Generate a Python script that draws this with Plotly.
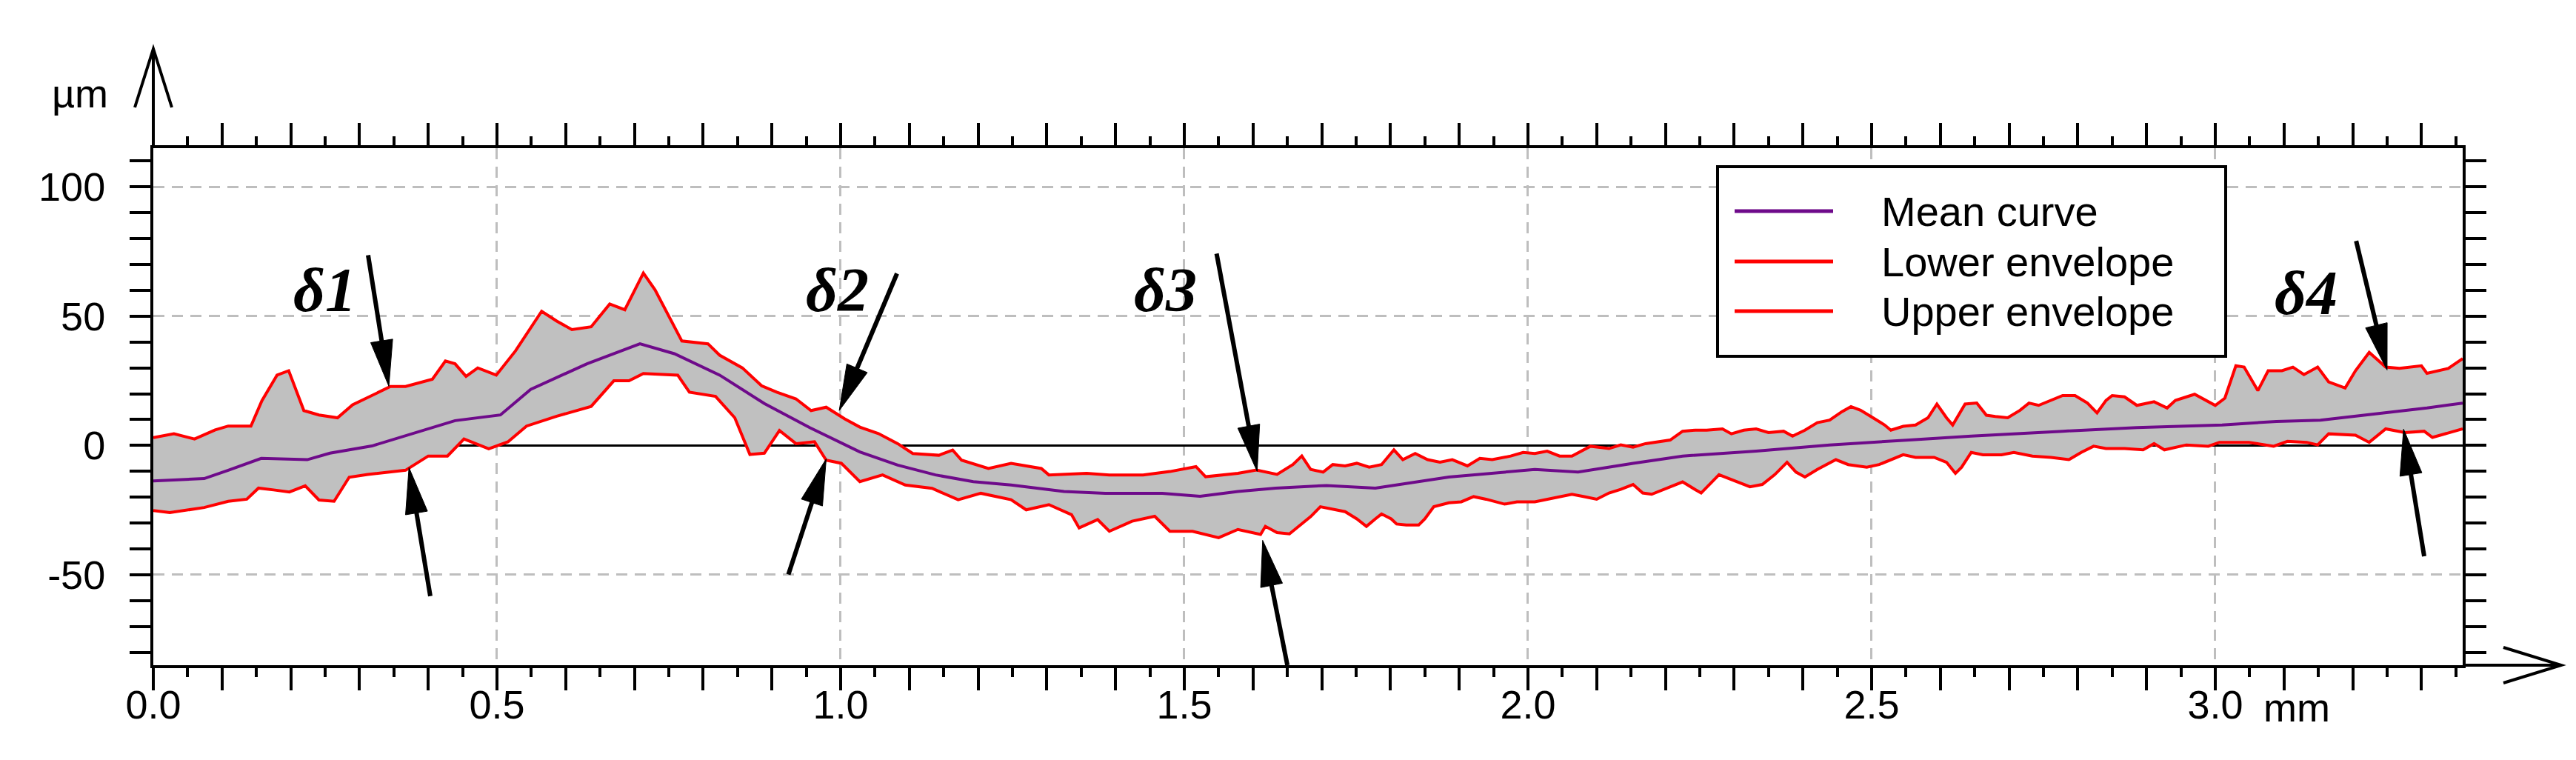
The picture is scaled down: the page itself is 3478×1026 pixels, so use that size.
import plotly.graph_objects as go

# ---------------- data ----------------
upper_x = [0.000,0.030,0.060,0.090,0.109,0.142,0.158,0.180,0.197,0.219,
           0.241,0.268,0.290,0.329,0.345,0.367,0.406,0.425,0.439,0.455,
           0.472,0.499,0.527,0.565,0.587,0.609,0.637,0.664,0.686,0.713,
           0.730,0.769,0.807,0.824,0.857,0.885,0.907,0.935,0.957,0.979,
           1.006,1.028,1.055,1.083,1.105,1.143,1.163,1.176,1.215,1.248,
           1.292,1.303,1.358,1.391,1.440,1.479,1.517,1.531,1.578,1.605,
           1.618,1.635,1.658,1.671,1.684,1.702,1.716,1.734,1.751,1.769,
           1.787,1.805,1.818,1.836,1.854,1.872,1.890,1.912,1.930,1.948,
           1.975,1.993,2.010,2.028,2.046,2.064,2.091,2.118,2.135,2.153,
           2.171,2.207,2.225,2.243,2.260,2.283,2.296,2.314,2.332,2.350,
           2.372,2.385,2.403,2.421,2.439,2.457,2.470,2.484,2.502,2.519,
           2.528,2.546,2.564,2.582,2.595,2.609,2.618,2.636,2.653,2.667,
           2.680,2.698,2.716,2.729,2.743,2.761,2.778,2.796,2.814,2.828,
           2.841,2.850,2.868,2.886,2.903,
           2.911,2.930,2.942,2.970,3.000,3.014,3.030,3.042,3.062,3.077,
           3.097,3.113,3.129,3.149,3.165,3.189,3.204,3.224,3.248,3.268,
           3.300,3.308,3.339,3.360]
upper_y = [3.0,4.5,2.5,6.0,7.5,7.5,17.3,27.2,28.9,13.5,
           11.8,10.7,15.7,20.6,22.8,22.8,25.6,32.7,31.6,26.7,
           30.0,27.2,36.6,51.9,48.1,44.8,45.9,54.7,52.5,66.7,
           60.2,40.4,39.3,34.9,30.0,23.1,20.6,18.0,13.5,14.8,
           10.3,7.1,4.6,0.7,-3.1,-3.8,-1.8,-5.7,-8.9,-6.9,
           -8.9,-11.4,-10.8,-11.4,-11.4,-10.1,-8.2,-12.1,-10.8,-9.5,
           -10.3,-11.2,-7.4,-4.1,-9.3,-10.3,-7.4,-7.9,-6.9,-8.4,
           -7.4,-1.7,-5.5,-3.1,-5.5,-6.5,-5.5,-7.9,-5.0,-5.5,
           -4.1,-2.7,-3.1,-2.2,-4.1,-4.1,-0.3,-1.2,0.2,-0.7,
           0.7,2.1,5.5,5.9,5.9,6.4,4.5,5.9,6.4,5.0,
           5.5,3.6,5.9,8.8,9.8,13.1,15.0,13.6,10.7,7.9,
           5.9,7.4,7.9,10.7,16.0,10.7,7.9,16.0,16.4,11.7,
           11.2,10.7,13.6,16.4,15.5,17.4,19.3,19.3,16.4,12.6,
           17.4,19.3,18.8,15.5,16.4,
           16.9,14.5,17.4,19.8,15.5,18.3,30.8,30.3,21.2,28.9,
           28.9,30.3,27.4,30.3,24.6,22.2,28.9,36.0,30.3,29.8,
           30.8,27.9,29.8,33.6]

lower_x = [0.000,0.024,0.074,0.109,0.136,0.153,0.175,0.198,0.221,0.241,
           0.263,0.285,0.312,0.367,0.400,0.428,0.452,0.488,0.516,0.543,
           0.587,0.637,0.670,0.692,0.713,0.763,0.780,0.818,0.846,0.868,
           0.889,0.911,0.935,0.962,0.979,1.001,1.028,1.061,1.094,1.133,
           1.171,1.204,1.248,1.270,1.303,1.336,1.347,1.374,1.391,1.424,
           1.457,1.479,1.512,1.550,1.578,1.611,
           1.618,1.635,1.653,1.671,1.684,1.698,1.716,1.734,1.751,1.765,
           1.778,1.787,1.801,1.809,1.823,1.841,1.850,1.863,1.885,1.903,
           1.921,1.939,1.966,1.984,2.010,2.037,2.064,2.082,2.100,2.118,
           2.135,2.153,2.167,2.180,2.198,2.225,2.243,2.252,2.278,2.296,
           2.323,2.341,2.359,2.377,2.390,2.403,2.421,2.448,2.466,2.493,
           2.511,2.546,2.564,2.591,2.609,2.622,2.631,2.645,2.662,2.689,
           2.707,2.734,2.761,2.787,2.805,2.823,2.841,2.868,2.895,
           2.911,2.926,2.958,2.990,3.006,3.049,3.085,3.105,3.133,3.149,
           3.165,3.204,3.224,3.248,3.276,3.304,3.316,3.360]
lower_y = [-25.2,-26.0,-24.0,-21.6,-20.8,-16.5,-17.2,-18.0,-15.6,-21.1,
           -21.6,-12.3,-11.2,-9.6,-4.1,-4.1,2.5,-1.3,1.4,7.5,
           11.3,15.1,25.0,25.0,27.8,27.2,20.6,19.0,10.7,-3.5,
           -3.0,5.8,0.7,1.4,-5.7,-6.9,-14.0,-11.4,-15.3,-16.6,
           -21.0,-18.5,-21.0,-24.9,-22.9,-26.8,-31.9,-28.7,-33.2,-29.3,
           -27.4,-33.2,-33.2,-35.7,-32.5,-34.4,
           -31.3,-33.7,-34.2,-30.4,-27.5,-23.7,-24.6,-25.6,-28.4,-31.3,
           -28.4,-26.5,-28.4,-30.4,-30.8,-30.8,-28.4,-23.7,-22.2,-21.8,
           -19.8,-20.8,-22.7,-21.8,-21.8,-20.3,-18.9,-19.8,-20.8,-18.4,
           -17.0,-15.1,-18.4,-18.9,-17.0,-14.1,-17.0,-18.4,-11.3,-13.2,
           -16.0,-15.1,-11.3,-6.5,-10.3,-12.2,-9.3,-5.5,-7.4,-8.4,
           -7.4,-3.6,-4.6,-4.6,-6.5,-10.8,-8.4,-2.7,-3.6,-3.6,
           -2.7,-4.1,-4.6,-5.5,-2.7,-0.3,-1.2,-1.2,-1.7,
           0.7,-1.7,0.2,-0.3,1.2,1.2,-0.3,1.6,1.2,0.2,
           4.5,4.0,1.2,6.4,5.0,5.5,3.1,6.4]

mean_x = [0.000,0.074,0.109,0.157,0.224,0.257,0.318,0.384,0.439,0.505,
          0.549,0.631,0.708,0.758,0.824,0.889,0.955,1.028,1.083,1.138,
          1.193,1.248,1.325,1.385,1.468,1.523,1.578,1.633,1.707,1.778,
          1.885,2.010,2.073,2.153,2.225,2.332,2.439,2.555,2.645,2.778,
          2.886,3.010,3.089,3.153,3.248,3.308,3.360]
mean_y = [-13.7,-12.8,-9.6,-5.0,-5.5,-3.0,-0.2,5.3,9.6,11.8,
          21.7,31.6,39.3,35.5,27.2,16.2,6.9,-2.5,-7.6,-11.4,
          -14.0,-15.3,-17.8,-18.5,-18.5,-19.7,-17.8,-16.5,-15.5,-16.5,
          -12.2,-9.3,-10.3,-6.9,-4.1,-2.2,0.2,2.1,3.6,5.5,
          6.9,7.9,9.3,9.8,12.6,14.5,16.4]

series_names = ["Mean curve", "Lower envelope", "Upper envelope"]

x_tick_vals = [0.0, 0.5, 1.0, 1.5, 2.0, 2.5, 3.0]
x_tick_text = ["0.0", "0.5", "1.0", "1.5", "2.0", "2.5", "3.0"]
y_tick_vals = [-50, 0, 50, 100]
y_tick_text = ["-50", "0", "50", "100"]
x_unit = "mm"
y_unit = "µm"

delta_labels = ["δ1", "δ2", "δ3", "δ4"]
delta_label_x = [0.250, 0.995, 1.473, 3.132]
delta_label_y = [60.0, 60.0, 60.0, 59.0]

arrow_tail_x = [0.3125, 0.403, 1.082, 0.924, 1.547, 1.650, 3.205, 3.304]
arrow_tail_y = [73.6, -58.3, 66.5, -49.9, 74.2, -85.0, 79.1, -42.9]
arrow_tip_x = [0.3427, 0.372, 0.998, 0.979, 1.606, 1.614, 3.250, 3.274]
arrow_tip_y = [22.9, -8.6, 13.5, -5.2, -10.0, -36.7, 29.2, 6.3]

# ---------------- geometry / style ----------------
W, H = 3478, 1026
ML, MR, MT, MB = 199, 161, 192, 136
PW, PH = W - ML - MR, H - MT - MB
X_RANGE = [0.0, 3.36]
Y_RANGE = [-85.0, 115.0]
FONT = "Liberation Sans, Arial, sans-serif"
SERIF = "Liberation Serif, Times New Roman, serif"
GRAY = "#C0C0C0"
RED = "#FF0000"
PURPLE = "#6E0A8A"
GRID = "#BEBEBE"
series_colors = [PURPLE, RED, RED]

# legend box (pixel geometry)
LEG_X0, LEG_X1, LEG_Y0, LEG_Y1 = 2311, 2997, 217, 473
LEG_ROWS = [277, 345, 412]
LEG_LINE_X0, LEG_LINE_X1, LEG_TEXT_X = 2334, 2467, 2530


def d2p(x, y):
    px = ML + (x - X_RANGE[0]) / (X_RANGE[1] - X_RANGE[0]) * PW
    py = MT + (Y_RANGE[1] - y) / (Y_RANGE[1] - Y_RANGE[0]) * PH
    return px, py


def p2d(px, py):
    x = X_RANGE[0] + (px - ML) / PW * (X_RANGE[1] - X_RANGE[0])
    y = Y_RANGE[1] - (py - MT) / PH * (Y_RANGE[1] - Y_RANGE[0])
    return x, y


def p2paper(px, py):
    return (px - ML) / PW, (MT + PH - py) / PH


fig = go.Figure()

# gray bundle of measured profiles (band between envelopes)
fig.add_trace(go.Scatter(x=lower_x, y=lower_y, mode="lines",
                         line=dict(width=0, color=GRAY), showlegend=False,
                         hoverinfo="skip"))
fig.add_trace(go.Scatter(x=upper_x, y=upper_y, mode="lines", fill="tonexty",
                         fillcolor=GRAY, line=dict(width=0, color=GRAY),
                         showlegend=False, hoverinfo="skip"))
# envelopes and mean
fig.add_trace(go.Scatter(x=lower_x, y=lower_y, mode="lines", name=series_names[1],
                         line=dict(color=RED, width=4), showlegend=False))
fig.add_trace(go.Scatter(x=upper_x, y=upper_y, mode="lines", name=series_names[2],
                         line=dict(color=RED, width=4), showlegend=False))
fig.add_trace(go.Scatter(x=mean_x, y=mean_y, mode="lines", name=series_names[0],
                         line=dict(color=PURPLE, width=4), showlegend=False))
# helper axis carrying the short 0.05 ticks
fig.add_trace(go.Scatter(x=[], y=[], xaxis="x2", showlegend=False, hoverinfo="skip"))

x_major = [round(i * 0.1, 2) for i in range(0, 34)]
x_short = [round(0.05 + i * 0.1, 2) for i in range(0, 34)]

fig.update_layout(
    width=W, height=H,
    margin=dict(l=ML, r=MR, t=MT, b=MB, pad=0),
    paper_bgcolor="white", plot_bgcolor="white",
    font=dict(family=FONT, size=54, color="black"),
    showlegend=False,
    xaxis=dict(range=X_RANGE, tickmode="array", tickvals=x_tick_vals,
               ticktext=x_tick_text, ticks="outside", ticklen=30, tickwidth=4,
               tickcolor="black", showline=True, linewidth=4, linecolor="black",
               mirror="allticks", showgrid=True, gridcolor=GRID, gridwidth=3,
               griddash="15px,10px", zeroline=False,
               tickfont=dict(family=FONT, size=54, color="black"),
               ticklabelstandoff=-27,
               minor=dict(tickmode="array", tickvals=x_major, ticks="outside",
                          ticklen=30, tickwidth=4, tickcolor="black", showgrid=False)),
    xaxis2=dict(range=X_RANGE, overlaying="x", anchor="y", side="bottom",
                tickmode="array", tickvals=x_short, ticks="outside", ticklen=15,
                tickwidth=4, tickcolor="black", showticklabels=False,
                showline=False, showgrid=False, zeroline=False, mirror="allticks"),
    yaxis=dict(range=Y_RANGE, tickmode="array", tickvals=y_tick_vals,
               ticktext=y_tick_text, ticks="outside", ticklen=28, tickwidth=4,
               tickcolor="black", showline=True, linewidth=4, linecolor="black",
               mirror="allticks", showgrid=True, gridcolor=GRID, gridwidth=3,
               griddash="15px,10px", zeroline=True, zerolinecolor="black",
               zerolinewidth=3, tickfont=dict(family=FONT, size=54, color="black"),
               ticklabelstandoff=22,
               minor=dict(tick0=0, dtick=10, ticks="outside", ticklen=11,
                          tickwidth=4, tickcolor="black", showgrid=False)),
)

shapes = []
annotations = []

# delta arrows: shaft + filled head
HEAD_L, HEAD_W = 62.0, 30.0
for tx, ty, hx, hy in zip(arrow_tail_x, arrow_tail_y, arrow_tip_x, arrow_tip_y):
    p0x, p0y = d2p(tx, ty)
    p1x, p1y = d2p(hx, hy)
    dx, dy = p1x - p0x, p1y - p0y
    n = (dx * dx + dy * dy) ** 0.5
    ux, uy = dx / n, dy / n
    bx, by = p1x - ux * HEAD_L, p1y - uy * HEAD_L
    lx, ly = bx - uy * HEAD_W / 2, by + ux * HEAD_W / 2
    rx, ry = bx + uy * HEAD_W / 2, by - ux * HEAD_W / 2
    a, b = p2d(p0x, p0y)
    c, d = p2d(bx + ux * 4, by + uy * 4)
    shapes.append(dict(type="line", xref="x", yref="y", x0=a, y0=b, x1=c, y1=d,
                       line=dict(color="black", width=6)))
    t1 = p2d(p1x, p1y)
    t2 = p2d(lx, ly)
    t3 = p2d(rx, ry)
    path = f"M {t1[0]},{t1[1]} L {t2[0]},{t2[1]} L {t3[0]},{t3[1]} Z"
    shapes.append(dict(type="path", xref="x", yref="y", path=path,
                       fillcolor="black", line=dict(color="black", width=1)))

# axis arrows (y up, x right)
ya0 = p2paper(ML, MT)
ya1 = p2paper(ML, 58)
shapes.append(dict(type="line", xref="paper", yref="paper", x0=ya0[0], y0=ya0[1],
                   x1=ya1[0], y1=ya1[1], line=dict(color="black", width=4)))
c1 = p2paper(ML - 25, 137)
c2 = p2paper(ML + 25, 137)
shapes.append(dict(type="path", xref="paper", yref="paper",
                   path=f"M {c1[0]},{c1[1]} L {ya1[0]},{ya1[1]} L {c2[0]},{c2[1]}",
                   line=dict(color="black", width=4)))
xa0 = p2paper(ML + PW, MT + PH)
xa1 = p2paper(3450, MT + PH)
shapes.append(dict(type="line", xref="paper", yref="paper", x0=xa0[0], y0=xa0[1],
                   x1=xa1[0], y1=xa1[1], line=dict(color="black", width=4)))
c1 = p2paper(3372, MT + PH - 24)
c2 = p2paper(3372, MT + PH + 24)
shapes.append(dict(type="path", xref="paper", yref="paper",
                   path=f"M {c1[0]},{c1[1]} L {xa1[0]},{xa1[1]} L {c2[0]},{c2[1]}",
                   line=dict(color="black", width=4)))

# legend (box, sample lines, labels)
b0 = p2paper(LEG_X0, LEG_Y1)
b1 = p2paper(LEG_X1, LEG_Y0)
shapes.append(dict(type="rect", xref="paper", yref="paper", x0=b0[0], y0=b0[1],
                   x1=b1[0], y1=b1[1], fillcolor="white",
                   line=dict(color="black", width=4), layer="above"))
for name, col, ry in zip(series_names, series_colors, LEG_ROWS):
    s0 = p2paper(LEG_LINE_X0, ry)
    s1 = p2paper(LEG_LINE_X1, ry)
    shapes.append(dict(type="line", xref="paper", yref="paper", x0=s0[0], y0=s0[1],
                       x1=s1[0], y1=s1[1], line=dict(color=col, width=5),
                       layer="above"))
    tp = p2paper(LEG_TEXT_X, ry)
    annotations.append(dict(x=tp[0], y=tp[1], xref="paper", yref="paper", text=name,
                            showarrow=False, xanchor="left", yanchor="middle",
                            font=dict(family=FONT, size=56, color="black")))

# delta labels
for lab, lx, ly in zip(delta_labels, delta_label_x, delta_label_y):
    annotations.append(dict(x=lx, y=ly, xref="x", yref="y", text=f"<b>{lab}</b>",
                            showarrow=False, xanchor="center", yanchor="middle",
                            font=dict(family=SERIF, size=84, color="black",
                                      style="italic")))

# unit labels
um = p2paper(100, 118)
annotations.append(dict(x=um[0], y=um[1], xref="paper", yref="paper", text=y_unit,
                        showarrow=False, xanchor="center", yanchor="middle",
                        font=dict(family=FONT, size=54, color="black")))
mm = p2paper(3046, 947)
annotations.append(dict(x=mm[0], y=mm[1], xref="paper", yref="paper", text=x_unit,
                        showarrow=False, xanchor="left", yanchor="middle",
                        font=dict(family=FONT, size=54, color="black")))

fig.update_layout(shapes=shapes, annotations=annotations)
fig.write_html("out.html")
